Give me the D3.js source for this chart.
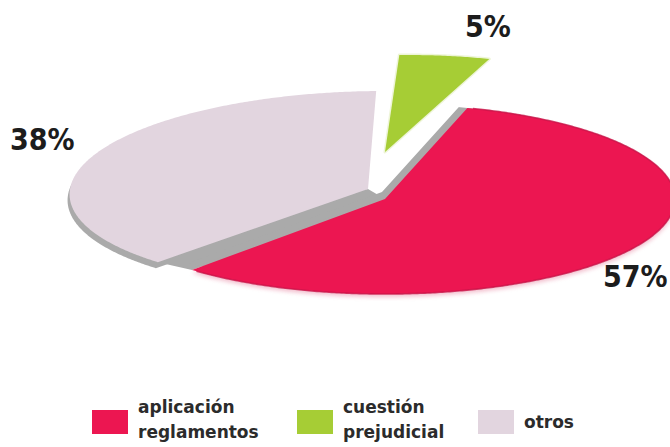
<!DOCTYPE html>
<html>
<head>
<meta charset="utf-8">
<script src="https://cdn.jsdelivr.net/npm/d3@7"></script>
<style>
  html, body { margin: 0; padding: 0; background: #ffffff; }
  svg { display: block; }
  .pct { font-family: "DejaVu Sans Condensed", "DejaVu Sans", sans-serif; font-stretch: condensed; font-weight: bold; font-size: 30px; fill: #1c1c1c; }
  .leg { font-family: "DejaVu Sans", sans-serif; font-weight: bold; font-size: 17px; fill: #2b2b2b; }
</style>
</head>
<body>
<svg id="chart" width="670" height="447"></svg>
<script>
// Categories in legend order
const categories = ["aplicación reglamentos", "cuestión prejudicial", "otros"];
const legendLines = [["aplicación", "reglamentos"], ["cuestión", "prejudicial"], ["otros"]];
const values = [57, 5, 38];
const percentLabels = ["57%", "5%", "38%"];
const colors = ["#ec1651", "#a6cd35", "#e2d5df"];

// Slices go clockwise from the top: prejudicial, reglamentos, otros
const pieOrder = [1, 0, 2];

// Flattened-disc geometry for each slice (apex, radii, shear of the tilt)
const geom = [
  { ax: 385, ay: 199, rx: 290, ry: 95, sh: 0 },   // reglamentos
  { ax: 385, ay: 152, rx: 293, ry: 97, sh: 22 },  // prejudicial (pulled out)
  { ax: 368, ay: 189, rx: 298, ry: 98, sh: 16 }   // otros (raised)
];
const labelPos = [[603, 287], [465, 37], [10, 150]];
const legendX = [92, 297, 478];
const sideColor = "#aaaaaa";

const svg = d3.select("#chart");
const defs = svg.append("defs");

const rot = -1.5 * Math.PI / 180;
const pie = d3.pie().sort(null).value(i => values[i])
  .startAngle(rot).endAngle(rot + 2 * Math.PI);
const arcs = pie(pieOrder);
const arcOf = i => arcs.find(a => a.data === i);

function project(g, theta, r) {
  const ux = Math.sin(theta), uy = -Math.cos(theta);
  return [g.ax + r * (g.rx * ux - g.sh * uy), g.ay + r * g.ry * uy];
}
function rimPoints(g, a0, a1) {
  const n = Math.max(2, Math.ceil(Math.abs(a1 - a0) / (Math.PI / 360)));
  return d3.range(n + 1).map(k => project(g, a0 + (a1 - a0) * k / n, 1));
}
function slicePoints(i) {
  const a = arcOf(i), g = geom[i];
  return [[g.ax, g.ay]].concat(rimPoints(g, a.startAngle, a.endAngle));
}
const closed = d3.line().curve(d3.curveLinearClosed);
const open = d3.line();

const sh = defs.append("filter").attr("id", "soft").attr("x", "-10%").attr("y", "-10%").attr("width", "120%").attr("height", "130%");
sh.append("feGaussianBlur").attr("stdDeviation", 2.2);

// clip for the side wall of the front slice: its own disc outline
defs.append("clipPath").attr("id", "redDisc")
  .append("path").attr("d", closed(rimPoints(geom[0], 0, 2 * Math.PI)));

const g = svg.append("g");

// side wall of the raised "otros" slice
g.append("path").attr("d", closed(slicePoints(2)))
  .attr("transform", "translate(-2,6)")
  .attr("fill", sideColor);

// wall joining the "otros" cut edge to the front slice's cut edge
{
  const aO = arcOf(2), aR = arcOf(0);
  const wall = [
    [geom[2].ax, geom[2].ay],
    project(geom[2], aO.startAngle, 1),
    project(geom[0], aR.endAngle, 1),
    [geom[0].ax, geom[0].ay]
  ];
  g.append("path").attr("d", closed(wall)).attr("fill", sideColor);
}

// side wall of the front slice along its cut edges
g.append("g").attr("clip-path", "url(#redDisc)")
  .append("path").attr("d", closed(slicePoints(0)))
  .attr("transform", "translate(-3,-7)")
  .attr("fill", sideColor);

// "otros" top
g.append("path").attr("d", closed(slicePoints(2))).attr("fill", colors[2]);

// front slice: blurred shadow, fill and darker rim
g.append("path").attr("d", closed(slicePoints(0)))
  .attr("transform", "translate(0,3)")
  .attr("fill", "#e88aa5").attr("opacity", 0.55).attr("filter", "url(#soft)");
g.append("path").attr("d", closed(slicePoints(0))).attr("fill", colors[0]);
{
  const a = arcOf(0);
  g.append("path").attr("d", open(rimPoints(geom[0], a.startAngle + 0.02, a.endAngle - 0.02)))
    .attr("fill", "none").attr("stroke", "#c91449").attr("stroke-width", 1.6).attr("opacity", 0.8);
}

// pulled-out slice with a pale halo
g.append("path").attr("d", closed(slicePoints(1)))
  .attr("fill", colors[1]).attr("stroke", "#eef5d8").attr("stroke-width", 3)
  .attr("stroke-linejoin", "round").attr("paint-order", "stroke");

// percentage labels
svg.append("g").selectAll("text").data(d3.range(categories.length)).join("text")
  .attr("class", "pct")
  .attr("x", i => labelPos[i][0]).attr("y", i => labelPos[i][1])
  .text(i => percentLabels[i]);

// legend
const leg = svg.append("g").selectAll("g").data(d3.range(categories.length)).join("g")
  .attr("transform", i => `translate(${legendX[i]},410)`);
leg.append("rect").attr("width", 36).attr("height", 24).attr("fill", i => colors[i]);
leg.append("text").attr("class", "leg")
  .attr("x", 46)
  .attr("y", i => legendLines[i].length > 1 ? 3 : 18)
  .selectAll("tspan").data(i => legendLines[i]).join("tspan")
  .attr("x", 46).attr("dy", (d, k) => k === 0 ? 0 : 25)
  .text(d => d);
</script>
</body>
</html>
